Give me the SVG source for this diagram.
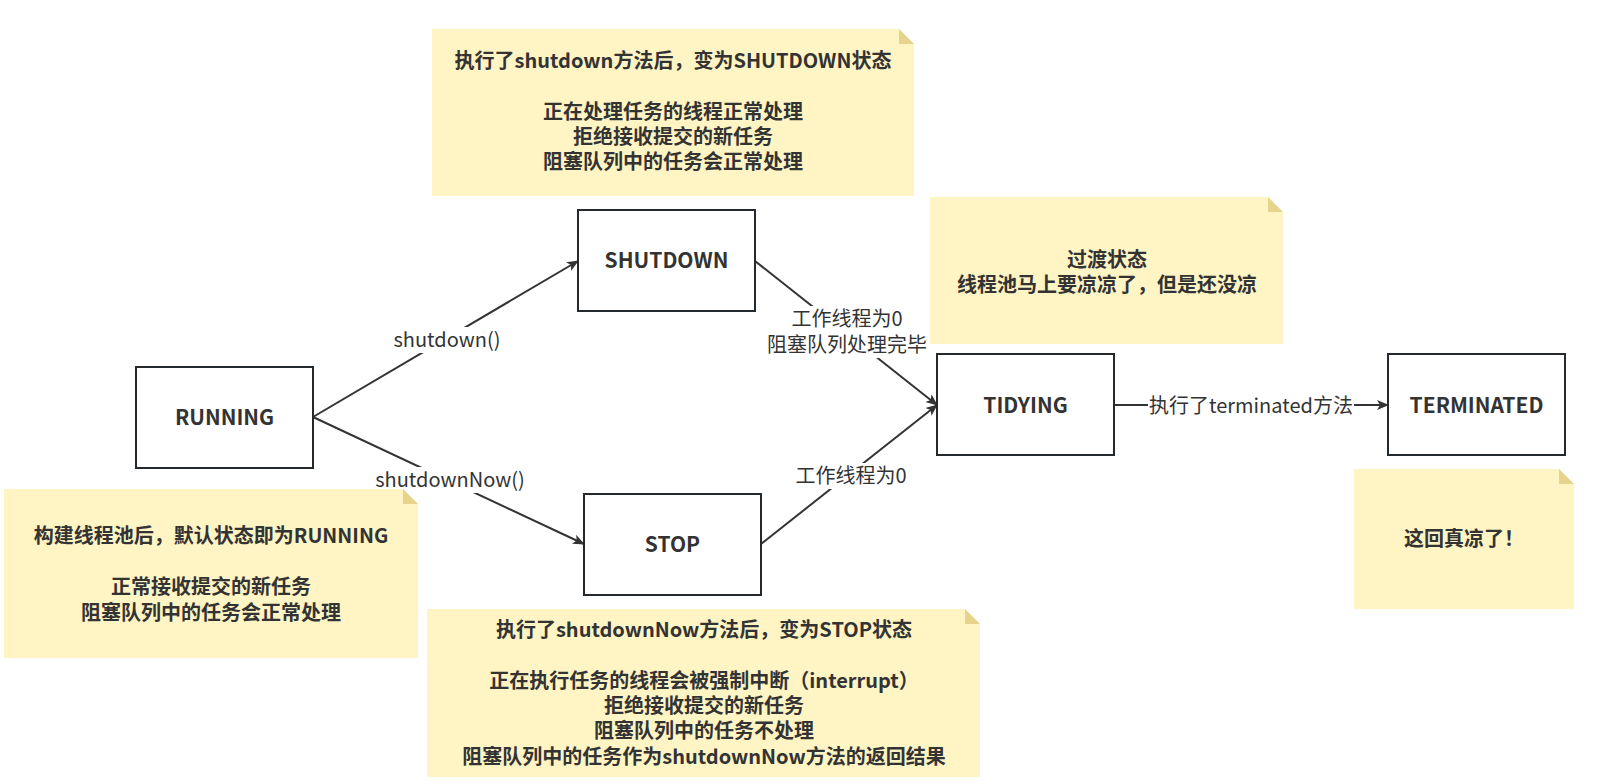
<svg xmlns="http://www.w3.org/2000/svg" width="1602" height="782" viewBox="0 0 1602 782">
<defs>
<style>
text{font-family:"Noto Sans CJK SC","Noto Sans",sans-serif;font-size:20px;fill:#333;text-anchor:middle}
.b{font-weight:bold}
.bl{font-weight:bold;font-size:21px}
.box{fill:#fff;stroke:#24292e;stroke-width:2}
.note{fill:#fff4c3}
.fold{fill:#e6d38c}
.edge{fill:none;stroke:#333;stroke-width:2;marker-end:url(#arr)}
.lbl{fill:#fff}
</style>
<marker id="arr" viewBox="0 0 12 10" refX="11" refY="5" markerWidth="12" markerHeight="10" markerUnits="userSpaceOnUse" orient="auto">
<path d="M0,0 L12,5 L0,10 L3,5 z" fill="#333"/>
</marker>
</defs>
<rect width="1602" height="782" fill="#fff"/>

<g id="connectors">
<line class="edge" x1="313" y1="417" x2="578" y2="261"/>
<line class="edge" x1="313" y1="417" x2="584" y2="544"/>
<line class="edge" x1="755" y1="261" x2="937" y2="405"/>
<line class="edge" x1="761" y1="544" x2="937" y2="405"/>
<line class="edge" x1="1114" y1="405" x2="1388" y2="405"/>
<rect class="lbl" x="393" y="327" width="108" height="26"/>
<text x="447" y="347">shutdown()</text>
<rect class="lbl" x="378" y="467" width="144" height="26"/>
<text x="450" y="487">shutdownNow()</text>
<rect class="lbl" x="766" y="306" width="162" height="52"/>
<text x="847" y="326">工作线程为0</text>
<text x="847" y="352">阻塞队列处理完毕</text>
<rect class="lbl" x="794" y="463" width="114" height="26"/>
<text x="851" y="483">工作线程为0</text>
<rect class="lbl" x="1148" y="393" width="206" height="26"/>
<text x="1251" y="413">执行了terminated方法</text>
</g>

<g id="running">
<rect class="box" x="136" y="367" width="177" height="101"/>
<text class="bl" x="224.5" y="425">RUNNING</text>
</g>
<g id="shutdown">
<rect class="box" x="578" y="210" width="177" height="101"/>
<text class="bl" x="666.5" y="268">SHUTDOWN</text>
</g>
<g id="stop">
<rect class="box" x="584" y="494" width="177" height="101"/>
<text class="bl" x="672.5" y="552">STOP</text>
</g>
<g id="tidying">
<rect class="box" x="937" y="354" width="177" height="101"/>
<text class="bl" x="1025.5" y="413">TIDYING</text>
</g>
<g id="terminated">
<rect class="box" x="1388" y="354" width="177" height="101"/>
<text class="bl" x="1476.5" y="413">TERMINATED</text>
</g>

<g id="note-shutdown">
<path class="note" d="M432,29 H899 L914,44 V196 H432 Z"/>
<path class="fold" d="M899,29 L914,44 H899 Z"/>
<text class="b" x="673" y="68">执行了shutdown方法后，变为SHUTDOWN状态</text>
<text class="b" x="673" y="119">正在处理任务的线程正常处理</text>
<text class="b" x="673" y="144">拒绝接收提交的新任务</text>
<text class="b" x="673" y="169">阻塞队列中的任务会正常处理</text>
</g>
<g id="note-tidying">
<path class="note" d="M930,197 H1268 L1283,212 V344 H930 Z"/>
<path class="fold" d="M1268,197 L1283,212 H1268 Z"/>
<text class="b" x="1107" y="267">过渡状态</text>
<text class="b" x="1107" y="292">线程池马上要凉凉了，但是还没凉</text>
</g>
<g id="note-terminated">
<path class="note" d="M1354,469 H1559 L1574,484 V609 H1354 Z"/>
<path class="fold" d="M1559,469 L1574,484 H1559 Z"/>
<text class="b" x="1464" y="546">这回真凉了！</text>
</g>
<g id="note-running">
<path class="note" d="M4,489 H403 L418,504 V658 H4 Z"/>
<path class="fold" d="M403,489 L418,504 H403 Z"/>
<text class="b" x="211" y="543">构建线程池后，默认状态即为RUNNING</text>
<text class="b" x="211" y="594">正常接收提交的新任务</text>
<text class="b" x="211" y="620">阻塞队列中的任务会正常处理</text>
</g>
<g id="note-stop">
<path class="note" d="M427,609 H965 L980,624 V777 H427 Z"/>
<path class="fold" d="M965,609 L980,624 H965 Z"/>
<text class="b" x="704" y="637">执行了shutdownNow方法后，变为STOP状态</text>
<text class="b" x="704" y="688">正在执行任务的线程会被强制中断（interrupt）</text>
<text class="b" x="704" y="713">拒绝接收提交的新任务</text>
<text class="b" x="704" y="738">阻塞队列中的任务不处理</text>
<text class="b" x="704" y="764">阻塞队列中的任务作为shutdownNow方法的返回结果</text>
</g>
</svg>
